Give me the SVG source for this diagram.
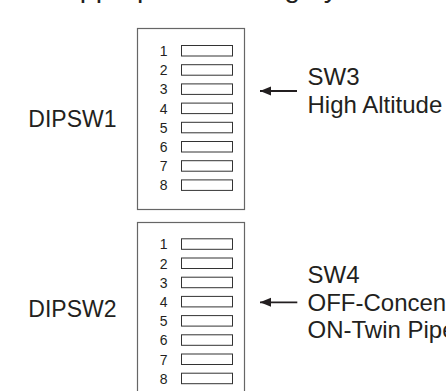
<svg xmlns="http://www.w3.org/2000/svg" width="446" height="391" viewBox="0 0 446 391">
<style>
.lbl{font-family:"Liberation Sans",Arial,sans-serif;font-size:23px;fill:#231f20}
.note{font-size:24px}
.num{font-family:"Liberation Sans",Arial,sans-serif;font-size:14px;fill:#231f20;text-anchor:end}
.box{fill:#fff;stroke:#666;stroke-width:1.2}
.sw{fill:#fff;stroke:#333;stroke-width:1}
.arr{stroke:#231f20;stroke-width:1.8;fill:none}
</style>
<defs>
<marker id="ah" markerUnits="userSpaceOnUse" markerWidth="12" markerHeight="10" refX="11" refY="4.5" orient="auto">
<path d="M0,0 L11,4.5 L0,9 z" fill="#231f20"/>
</marker>
</defs>
<rect width="446" height="391" fill="#fff"/>
<text class="lbl" x="64" y="-3.2" style="font-size:28.5px">appropriate setting by</text>
<g id="dipsw1">
<text class="lbl" x="28.3" y="127.3">DIPSW1</text>
<rect class="box" x="137.5" y="28.5" width="107" height="181"/>
<g>
<rect class="sw" x="181.5" y="45.5" width="51" height="10.5"/>
<rect class="sw" x="181.5" y="64.7" width="51" height="10.5"/>
<rect class="sw" x="181.5" y="83.9" width="51" height="10.5"/>
<rect class="sw" x="181.5" y="103.1" width="51" height="10.5"/>
<rect class="sw" x="181.5" y="122.3" width="51" height="10.5"/>
<rect class="sw" x="181.5" y="141.5" width="51" height="10.5"/>
<rect class="sw" x="181.5" y="160.7" width="51" height="10.5"/>
<rect class="sw" x="181.5" y="179.9" width="51" height="10.5"/>
</g>
<g>
<text class="num" x="167.5" y="56">1</text>
<text class="num" x="167.5" y="75.2">2</text>
<text class="num" x="167.5" y="94.4">3</text>
<text class="num" x="167.5" y="113.6">4</text>
<text class="num" x="167.5" y="132.8">5</text>
<text class="num" x="167.5" y="152">6</text>
<text class="num" x="167.5" y="171.2">7</text>
<text class="num" x="167.5" y="190.4">8</text>
</g>
</g>
<g id="dipsw2">
<text class="lbl" x="28.3" y="317.3">DIPSW2</text>
<rect class="box" x="137.5" y="222.5" width="107" height="181"/>
<g>
<rect class="sw" x="181.5" y="238.8" width="51" height="10.5"/>
<rect class="sw" x="181.5" y="258" width="51" height="10.5"/>
<rect class="sw" x="181.5" y="277.2" width="51" height="10.5"/>
<rect class="sw" x="181.5" y="296.4" width="51" height="10.5"/>
<rect class="sw" x="181.5" y="315.6" width="51" height="10.5"/>
<rect class="sw" x="181.5" y="334.8" width="51" height="10.5"/>
<rect class="sw" x="181.5" y="354" width="51" height="10.5"/>
<rect class="sw" x="181.5" y="373.2" width="51" height="10.5"/>
</g>
<g>
<text class="num" x="167.5" y="249.3">1</text>
<text class="num" x="167.5" y="268.5">2</text>
<text class="num" x="167.5" y="287.7">3</text>
<text class="num" x="167.5" y="306.9">4</text>
<text class="num" x="167.5" y="326.1">5</text>
<text class="num" x="167.5" y="345.3">6</text>
<text class="num" x="167.5" y="364.5">7</text>
<text class="num" x="167.5" y="383.7">8</text>
</g>
</g>
<g id="sw3-note">
<text class="lbl note" x="307.5" y="85">SW3</text>
<text class="lbl note" x="307.5" y="113">High Altitude</text>
</g>
<g id="sw4-note">
<text class="lbl note" x="307.5" y="283">SW4</text>
<text class="lbl note" x="307.5" y="310.5">OFF-Concentric</text>
<text class="lbl note" x="307.5" y="338">ON-Twin Pipe</text>
</g>
<g id="connectors">
<line class="arr" x1="297" y1="91" x2="260" y2="91" marker-end="url(#ah)"/>
<line class="arr" x1="297.3" y1="302.3" x2="260" y2="302.3" marker-end="url(#ah)"/>
</g>
</svg>
